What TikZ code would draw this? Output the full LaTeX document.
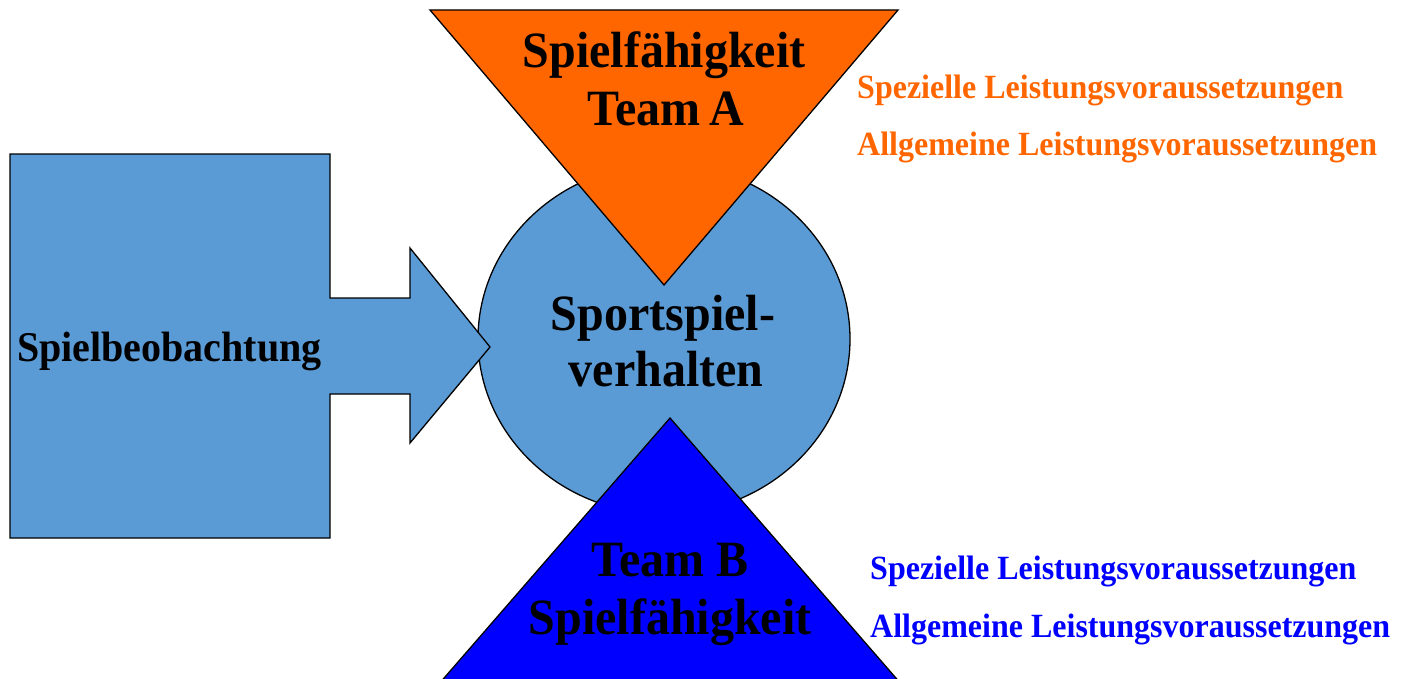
\documentclass[tikz,border=0pt]{standalone}
\usepackage{fontspec}
\setmainfont{Liberation Serif}
\definecolor{boxblue}{HTML}{5B9BD5}
\definecolor{orangeA}{HTML}{FF6600}
\definecolor{blueB}{HTML}{0000FF}
\newcommand{\tallish}[1]{\scalebox{1}[1.06]{#1}}
\tikzset{
  shapeline/.style={draw=black, line width=1.3bp, line join=miter},
  bigtext/.style={inner sep=0pt, anchor=base, font=\fontsize{48bp}{57bp}\selectfont\bfseries},
  midtext/.style={inner sep=0pt, anchor=base west, font=\fontsize{40bp}{48bp}\selectfont\bfseries},
  smalltext/.style={inner sep=0pt, anchor=base west, font=\fontsize{32bp}{38bp}\selectfont\bfseries},
}
\begin{document}
\begin{tikzpicture}[x=1bp, y=-1bp]
\useasboundingbox (0,0) rectangle (1401,679);
% circle
\draw[shapeline, fill=boxblue] (664,339) ellipse [x radius=186, y radius=175];
% callout arrow
\draw[shapeline, fill=boxblue] (10,154) -- (330,154) -- (330,298) -- (410,298) -- (410,248) -- (490,347) -- (410,443) -- (410,394) -- (330,394) -- (330,538) -- (10,538) -- cycle;
% orange triangle
\draw[shapeline, fill=orangeA] (430,10) -- (898,10) -- (664,285) -- cycle;
% blue triangle
\draw[shapeline, fill=blueB] (670,418) -- (915,700) -- (425,700) -- cycle;
% texts
\node[bigtext] (a1) at (664,68) {\tallish{Spielfähigkeit}};
\node[bigtext] (a2) at (666,126) {\tallish{Team\hspace{0.18em}A}};
\node[bigtext] (c1) at (663,330) {\tallish{Sportspiel-}};
\node[bigtext] (c2) at (666,386) {\tallish{verhalten}};
\node[bigtext] (b1) at (670,576) {\tallish{Team B}};
\node[bigtext] (b2) at (670,634) {\tallish{Spielfähigkeit}};
\node[midtext] (obs) at (17,361) {\tallish{Spielbeobachtung}};
\node[smalltext, text=orangeA] (oa1) at (857,99) {\tallish{Spezielle Leistungsvoraussetzungen}};
\node[smalltext, text=orangeA] (oa2) at (857,155) {\tallish{Allgemeine Leistungsvoraussetzungen}};
\node[smalltext, text=blueB] (ob1) at (870,579) {\tallish{Spezielle Leistungsvoraussetzungen}};
\node[smalltext, text=blueB] (ob2) at (870,637) {\tallish{Allgemeine Leistungsvoraussetzungen}};
\end{tikzpicture}
\end{document}
